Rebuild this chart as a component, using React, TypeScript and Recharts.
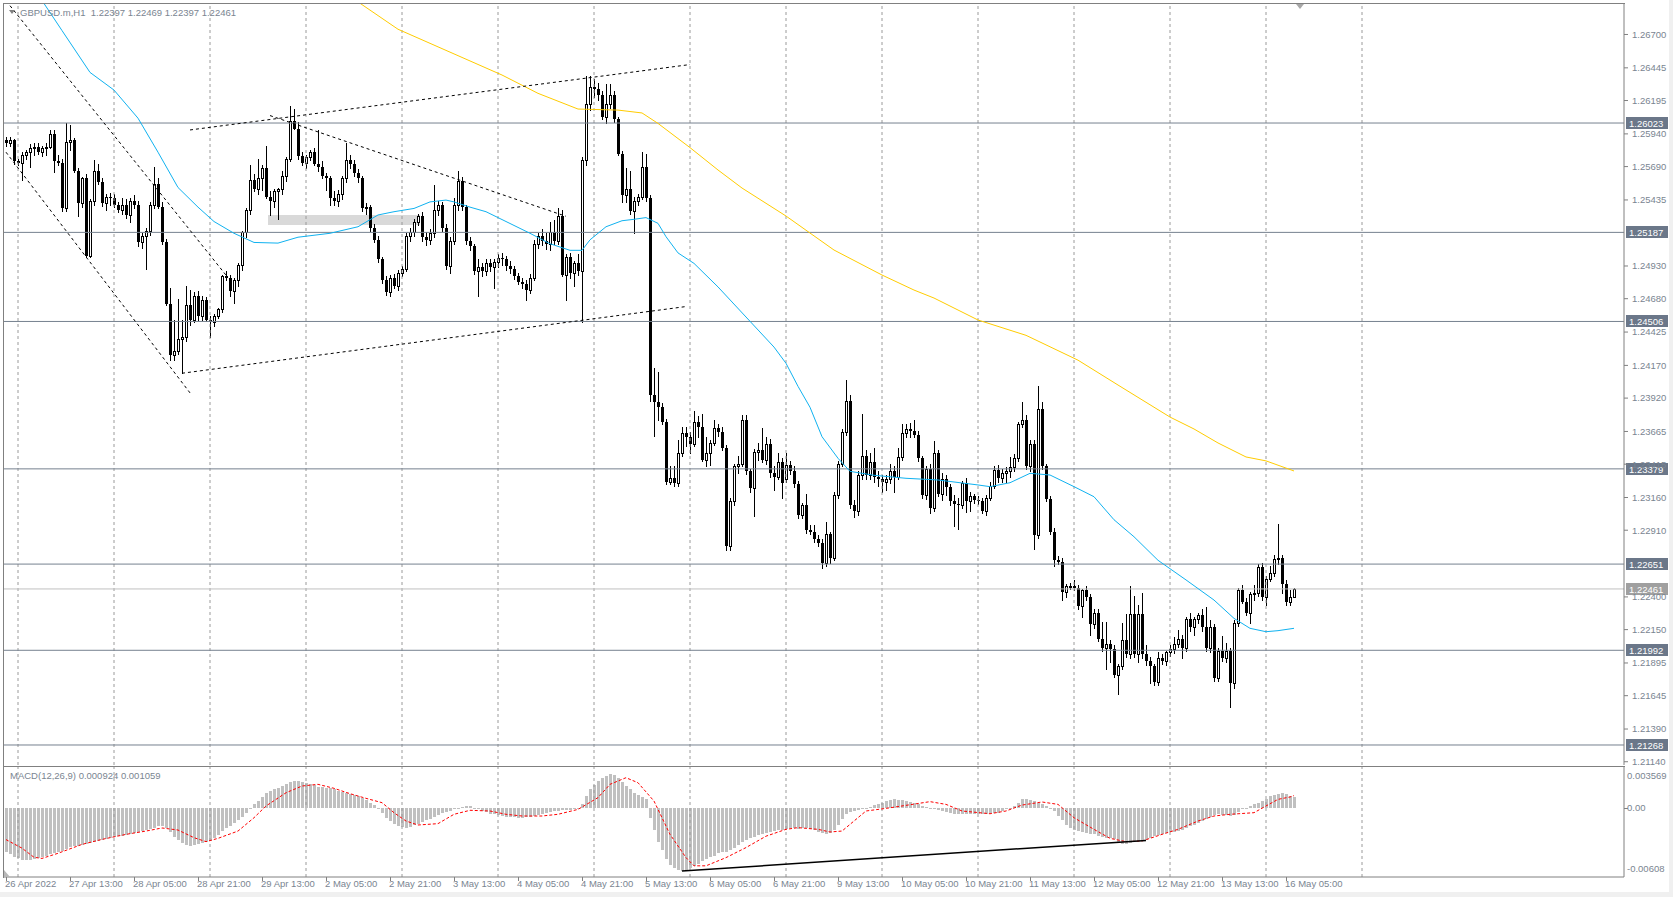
import React from "react";
import {
  ComposedChart,
  Bar,
  Line,
  XAxis,
  YAxis,
  ReferenceLine,
  ReferenceArea,
} from "recharts";

type Ohlc = [number, number, number, number];

// GBPUSD.m H1 candles, in pips above 1.20000: [open, high, low, close]
const apr26: Ohlc[] = [[589,592,585,587],[587,592,585,589],[589,590,571,573]];
const apr27: Ohlc[] = [
  [573,575,570,572],[572,580,559,578],[578,582,575,580],[580,586,569,583],[583,587,578,584],[584,587,579,580],
  [580,585,577,583],[583,587,578,584],[584,597,583,594],[594,597,565,573],[573,578,570,572],[572,575,535,537],
  [537,602,535,588],[588,601,582,589],[589,591,565,566],[566,568,531,541],[541,561,538,560],[560,563,500,501],
  [501,544,500,543],[543,574,540,566],[566,571,556,557],[557,560,539,541],[541,548,536,546],[546,549,540,545],
];
const apr28: Ohlc[] = [
  [545,548,538,540],[540,542,534,536],[536,545,533,540],[540,544,530,532],[532,545,527,543],[543,547,537,540],
  [540,543,508,511],[511,518,507,516],[516,522,491,520],[520,542,517,540],[540,569,537,556],[556,560,537,538],
  [538,542,510,511],[511,514,463,464],[464,476,421,425],[425,452,421,428],[428,468,426,437],[437,452,411,439],
  [439,478,436,463],[463,475,448,452],[452,473,450,470],[470,474,452,455],[455,470,452,467],[467,469,451,452],
];
const apr29: Ohlc[] = [
  [452,455,439,450],[450,456,447,455],[455,461,453,460],[460,486,458,485],[485,489,482,484],[484,486,470,474],
  [474,484,465,482],[482,495,478,494],[494,520,490,519],[519,537,515,536],[536,570,533,559],[559,563,550,552],
  [552,575,548,560],[560,570,551,568],[568,585,545,546],[546,550,532,543],[543,552,538,550],[550,553,529,552],
  [552,566,548,562],[562,576,558,575],[575,615,573,604],[604,613,598,598],[598,603,575,577],[577,580,570,572],
];
const may02: Ohlc[] = [
  [572,578,568,576],[576,582,574,580],[580,583,570,571],[571,597,566,569],[569,573,560,562],[562,564,551,560],
  [560,562,540,545],[545,550,540,543],[543,551,539,548],[548,562,544,560],[560,587,557,574],[574,578,568,571],
  [571,574,562,564],[564,567,557,560],[560,562,535,537],[537,541,533,538],[538,540,520,522],[522,525,511,513],
  [513,516,496,498],[498,500,480,482],[482,485,471,473],[473,486,470,484],[484,487,476,478],[478,490,475,488],
];
const may03: Ohlc[] = [
  [488,493,485,491],[491,518,489,516],[516,522,512,519],[519,529,516,527],[527,533,524,531],[531,534,512,515],
  [515,519,509,513],[513,521,510,518],[518,555,515,536],[536,543,532,540],[540,542,520,522],[522,525,491,493],
  [493,515,488,512],[512,545,510,540],[540,566,536,558],[558,561,536,538],[538,540,510,512],[512,515,505,508],
  [508,510,487,489],[489,498,470,492],[492,495,485,489],[489,498,486,495],[495,498,489,492],[492,498,476,496],
];
const may04: Ohlc[] = [
  [496,502,492,499],[499,503,494,498],[498,501,490,493],[493,497,488,491],[491,493,483,485],[485,488,479,481],
  [481,484,476,479],[479,482,467,475],[475,487,472,484],[484,513,482,510],[510,518,507,516],[516,521,509,512],
  [512,518,506,510],[510,527,505,519],[519,528,510,512],[512,537,510,531],[531,536,485,486],[486,502,467,500],
  [500,503,484,488],[488,497,478,495],[495,502,486,489],[489,576,450,574],[574,638,570,617],[617,638,612,630],
];
const may05: Ohlc[] = [
  [630,636,622,628],[628,633,620,624],[624,627,605,607],[607,632,602,617],[617,632,614,624],[624,627,603,605],
  [605,607,578,579],[579,581,542,547],[547,568,542,552],[552,566,533,535],[535,546,518,543],[543,548,540,546],
  [546,580,544,569],[569,579,543,545],[545,547,390,394],[394,415,363,389],[389,412,375,385],[385,388,372,374],
  [374,376,326,328],[328,340,326,331],[331,340,325,327],[327,360,325,350],[350,370,348,365],[365,370,355,362],
];
const may06: Ohlc[] = [
  [362,366,350,357],[357,382,355,374],[374,378,362,370],[370,380,344,345],[345,362,340,350],[350,360,341,358],
  [358,375,356,369],[369,372,363,366],[366,370,352,354],[354,356,276,279],[279,316,276,313],[313,342,310,340],
  [340,348,335,342],[342,379,340,375],[375,379,334,336],[336,338,320,323],[323,353,302,351],[351,358,345,352],
  [352,369,343,345],[345,362,342,357],[357,361,332,335],[335,340,322,332],[332,350,330,343],[343,346,316,327],
];
const may09: Ohlc[] = [
  [330,350,328,341],[341,344,334,336],[336,340,324,326],[326,329,300,303],[303,312,300,310],[310,319,289,291],
  [291,295,288,290],[290,295,282,284],[284,287,279,281],[281,284,262,266],[266,297,264,288],[288,290,266,270],
  [270,320,268,318],[318,344,316,342],[342,368,340,366],[366,406,364,390],[390,394,308,310],[310,314,301,306],
  [306,336,303,333],[333,380,330,348],[348,352,330,333],[333,350,330,343],[343,354,328,332],[332,336,325,330],
];
const may10: Ohlc[] = [
  [330,333,320,328],[328,333,322,330],[330,342,327,336],[336,340,320,332],[332,354,330,347],[347,372,345,365],
  [365,372,362,368],[368,373,362,367],[367,375,362,364],[364,367,344,346],[346,348,316,318],[318,340,315,338],
  [338,342,304,308],[308,359,306,350],[350,352,317,319],[319,335,314,330],[330,333,318,324],[324,326,310,313],
  [313,318,294,311],[311,316,292,310],[310,329,308,327],[327,331,305,313],[313,320,306,317],[317,319,312,314],
];
const may11: Ohlc[] = [
  [314,317,311,313],[313,316,304,306],[306,318,303,316],[316,328,314,325],[325,340,323,337],[337,341,328,331],
  [331,338,328,335],[335,339,328,336],[336,347,332,339],[339,349,336,346],[346,374,344,372],[372,389,370,375],
  [375,379,338,340],[340,360,336,357],[357,360,277,287],[287,401,285,384],[384,389,338,340],[340,342,313,315],
  [315,317,288,290],[290,293,264,268],[268,271,265,267],[267,270,238,244],[244,250,240,248],[248,251,246,248],
];
const may12: Ohlc[] = [
  [248,253,245,247],[247,249,231,233],[233,246,225,245],[245,248,238,240],[240,242,211,219],[219,231,216,228],
  [228,231,206,208],[208,221,199,201],[201,221,185,204],[204,207,190,200],[200,203,179,180],[180,189,166,187],
  [187,220,185,207],[207,227,194,196],[196,248,193,227],[227,241,194,196],[196,234,190,227],[227,243,193,196],
  [196,203,188,191],[191,194,174,187],[187,189,173,175],[175,198,173,193],[193,196,189,191],[191,199,188,198],
];
const may13: Ohlc[] = [
  [198,203,195,200],[200,209,197,204],[204,215,202,208],[208,211,193,201],[201,225,199,223],[223,228,214,217],
  [217,225,211,223],[223,228,220,226],[226,231,214,217],[217,232,199,201],[201,222,198,217],[217,219,176,178],
  [178,201,176,199],[199,210,191,193],[193,205,190,199],[199,201,156,174],[174,222,170,220],[220,247,218,245],
  [245,249,235,236],[236,239,226,228],[228,244,220,242],[242,249,238,243],[243,265,241,263],[263,266,238,240],
];
const may16: Ohlc[] = [
  [240,256,234,254],[254,264,252,258],[258,272,256,269],[269,296,265,270],[270,272,243,250],[250,253,234,236],
  [236,245,234,240],[239.7,246.9,239.7,246.1],
];

// MACD(12,26,9) main values per hour, in 1e-5
const macdApr26 = [-390,-410,-430];
const macdApr27 = [-445,-455,-460,-458,-452,-445,-435,-425,-410,-400,-390,-380,-360,-345,-340,-335,-325,-320,-310,-300,-290,-282,-275,-268];
const macdApr28 = [-260,-252,-245,-238,-230,-222,-215,-205,-198,-190,-178,-165,-160,-175,-215,-255,-285,-310,-325,-336,-330,-320,-310,-300];
const macdApr29 = [-290,-265,-240,-205,-180,-160,-135,-110,-80,-45,-5,30,60,95,130,150,160,175,190,205,225,234,230,222];
const macdMay02 = [215,205,195,185,180,175,170,160,150,140,130,120,110,100,85,65,45,20,-15,-50,-88,-120,-145,-160];
const macdMay03 = [-172,-175,-168,-155,-140,-125,-110,-95,-80,-60,-45,-35,-25,-15,0,10,15,12,0,-15,-30,-42,-52,-58];
const macdMay04 = [-65,-72,-78,-82,-85,-88,-88,-86,-82,-75,-65,-55,-45,-38,-30,-25,-20,-18,-16,-15,-12,30,100,160];
const macdMay05 = [200,235,260,280,292,285,260,225,190,160,130,110,95,73,-90,-200,-300,-370,-450,-500,-530,-550,-555,-545];
const macdMay06 = [-530,-510,-490,-470,-450,-435,-420,-400,-385,-390,-375,-350,-330,-300,-285,-270,-255,-240,-230,-220,-212,-205,-198,-192];
const macdMay09 = [-185,-182,-182,-185,-182,-180,-190,-200,-210,-225,-234,-225,-195,-150,-100,-55,-40,-30,-20,-10,0,10,20,30];
const macdMay10 = [42,55,65,73,70,65,58,50,42,30,15,5,0,-10,-18,-28,-38,-48,-55,-58,-58,-56,-55,-54];
const macdMay11 = [-53,-52,-52,-50,-48,-45,-30,-15,0,15,45,73,80,70,58,45,30,15,0,-30,-70,-110,-150,-175];
const macdMay12 = [-195,-205,-212,-220,-228,-234,-245,-255,-262,-270,-278,-300,-320,-318,-307,-300,-292,-285,-280,-265,-250,-240,-230,-222];
const macdMay13 = [-215,-210,-205,-195,-180,-165,-150,-135,-120,-100,-80,-60,-58,-62,-68,-73,-60,-35,-15,0,15,30,44,60];
const macdMay16 = [73,100,110,122,130,120,105,92];

// MACD signal line read at [bar, value 1e-5]
const signalPts: [number, number][] = [
  [0,-280],[4,-355],[7,-435],[9,-445],[13,-400],[19,-322],[24,-278],[30,-234],[35,-205],[39,-178],[43,-196],
  [47,-263],[50,-298],[53,-269],[58,-205],[62,-88],[65,15],[70,131],[74,190],[78,205],[82,170],[86,123],[90,82],
  [94,44],[97,-44],[100,-117],[103,-152],[108,-140],[112,-58],[116,-23],[121,-29],[125,-58],[129,-73],[134,-73],
  [138,-58],[143,-15],[148,88],[151,205],[155,263],[158,219],[162,58],[166,-234],[170,-438],[172,-510],[175,-510],
  [180,-438],[185,-350],[190,-250],[195,-190],[198,-175],[203,-190],[206,-213],[209,-205],[212,-117],[215,-29],
  [220,-6],[224,15],[231,53],[235,29],[239,-29],[246,-53],[250,-29],[254,23],[259,50],[263,29],[267,-88],[272,-190],
  [276,-269],[280,-298],[284,-292],[286,-269],[289,-234],[293,-190],[298,-117],[302,-73],[306,-58],[312,-44],
  [315,15],[318,73],[321,94],[322,106],
];

// moving averages read at [bar, pips above 1.2]
const maFastPts: [number, number][] = [
  [9,696],[14,673],[21,641],[27,627.5],[33,606],[38,580],[43,553],[48,538],[52,527],[57,518],[62,511],[68,510.5],
  [73,515],[81,518],[88,523],[93,532],[97,534.5],[102,537],[106,542],[110,543.4],[112,542],[116,538],[120,534.5],
  [125,527],[131,518],[136,510],[141,505],[144,505],[146,513],[150,523],[154,527.6],[157,528.7],[160,530],
  [163,525.6],[165,515.4],[168,503],[172,495],[178,477],[185,454],[192,431],[195,418.6],[198,401],[201,385],
  [204,362.5],[208,346],[211,336],[217,333],[225,330.7],[233,329.4],[243,325.6],[246,324.3],[251,327.3],
  [256,334.5],[261,333.2],[267,324.3],[272,316.6],[277,299],[282,286],[288,268],[295,253],[302,237.6],
  [307,223.6],[311,216],[315,213.4],[318,214.2],[322,216],
];
const maSlowPts: [number, number][] = [
  [87,697],[98,674],[124,639],[133,625],[143,613],[153,612.2],[159,610],[163,602],[171,583.5],[178,566.4],
  [184,552.6],[195,531.2],[201,518.2],[207,505.2],[219,486.1],[227,474.6],[232,468.5],[243,451.7],[255,440],
  [268,421],[278,402],[291,377.5],[297,368.4],[303,357.7],[310,347],[315,344],[322,336.3],
];

// drawn objects: [bar1, pips1, bar2, pips2]
const trendLines: [number, number, number, number][] = [
  [1, 692, 55, 486],
  [0, 580, 46, 396],
  [44, 411, 170, 462],
  [46, 597, 171, 647],
  [66, 608, 140, 531],
];
const zoneBox = { from: 66, to: 103, top: 532, bottom: 524.3 };
const macdTrend: [number, number, number, number] = [169, -556, 285, -287];

const levels = [1.26023, 1.25187, 1.24506, 1.23379, 1.22651, 1.21992, 1.21268];
const bidPrice = 1.22461;
const priceTicks = [
  1.267, 1.26445, 1.26195, 1.2594, 1.2569, 1.25435, 1.2493, 1.2468, 1.24425, 1.2417, 1.2392,
  1.23665, 1.23415, 1.2316, 1.2291, 1.224, 1.2215, 1.21895, 1.21645, 1.2139, 1.2114,
];
const macdTicks = [0.003569, 0, -0.00608];
const macdTickLabels = ["0.003569", "0.00", "-0.00608"];
const timeTicks = [0,16,32,48,64,80,96,112,128,144,160,176,192,208,224,240,256,272,288,304,320];
const timeLabels = [
  "26 Apr 2022", "27 Apr 13:00", "28 Apr 05:00", "28 Apr 21:00", "29 Apr 13:00", "2 May 05:00",
  "2 May 21:00", "3 May 13:00", "4 May 05:00", "4 May 21:00", "5 May 13:00", "6 May 05:00",
  "6 May 21:00", "9 May 13:00", "10 May 05:00", "10 May 21:00", "11 May 13:00", "12 May 05:00",
  "12 May 21:00", "13 May 13:00", "16 May 05:00",
];
const dayStarts = [3,27,51,75,99,123,147,171,195,219,243,267,291,315,339];
const SLOTS = 405;

const candleDays = [apr26, apr27, apr28, apr29, may02, may03, may04, may05, may06, may09, may10, may11, may12, may13, may16];
const macdDays = [macdApr26, macdApr27, macdApr28, macdApr29, macdMay02, macdMay03, macdMay04, macdMay05, macdMay06, macdMay09, macdMay10, macdMay11, macdMay12, macdMay13, macdMay16];

const px = (p: number) => 1.2 + p / 10000;
const candles = candleDays.flat();
const hist = macdDays.flat();

const rows: any[] = Array.from({ length: SLOTS }, (_, i) => {
  const k = candles[i];
  return {
    i,
    o: k ? px(k[0]) : null,
    h: k ? px(k[1]) : null,
    l: k ? px(k[2]) : null,
    c: k ? px(k[3]) : null,
    macd: hist[i] != null ? hist[i] / 1e5 : null,
    fast: null,
    slow: null,
    signal: null,
  };
});
maFastPts.forEach(([i, p]) => (rows[i].fast = px(p)));
maSlowPts.forEach(([i, p]) => (rows[i].slow = px(p)));
signalPts.forEach(([i, v]) => (rows[i].signal = v / 1e5));

const TXT = "#7a8591";
const FONT = "'Liberation Sans', Arial, sans-serif";
const FS = 9.5;
const FRAME = "#808080";
const LEVEL = "#76818f";
const GRID = "#9a9a9a";

function Candle(props: any) {
  const { x, y, width, height, payload } = props;
  if (!payload || payload.o == null || y == null || isNaN(y)) return null;
  const { o, h, l, c } = payload;
  const top = Math.min(y, y + height);
  const span = Math.abs(height);
  const rng = h - l;
  const toY = (v: number) => (rng > 0 ? top + ((h - v) / rng) * span : top);
  const cx = Math.round(x + width / 2);
  const yh = Math.round(top);
  const yl = Math.round(top + span);
  const yo = Math.round(toY(o));
  const yc = Math.round(toY(c));
  const bt = Math.min(yo, yc);
  const bb = Math.max(yo, yc);
  const bull = c >= o;
  return (
    <g>
      <line x1={cx + 0.5} x2={cx + 0.5} y1={yh} y2={yl + 1} stroke="#000" strokeWidth={1} />
      {bull ? (
        <rect x={cx - 0.5} y={bt + 0.5} width={2} height={Math.max(bb - bt, 1)} fill="#fff" stroke="#000" strokeWidth={1} />
      ) : (
        <rect x={cx - 1} y={bt} width={3} height={Math.max(bb - bt, 1)} fill="#000" />
      )}
    </g>
  );
}

function HistBar(props: any) {
  const { x, y, width, height, payload } = props;
  if (!payload || payload.macd == null || y == null || isNaN(y)) return null;
  const cx = Math.round(x + width / 2);
  const t = Math.round(Math.min(y, y + height));
  const b = Math.round(Math.max(y, y + height));
  return <rect x={cx - 1} y={t} width={3} height={Math.max(b - t, 1)} fill="#c0c0c0" />;
}

function LevelTag(props: any) {
  const { viewBox, tagText, tagColor } = props;
  if (!viewBox) return null;
  const x = viewBox.x + viewBox.width + 2;
  const y = Math.round(viewBox.y);
  return (
    <g>
      <rect x={x} y={y - 6} width={42} height={12} fill={tagColor} />
      <text x={x + 3} y={y + 3.5} fill="#fff" fontSize={FS} fontFamily={FONT}>
        {tagText}
      </text>
    </g>
  );
}

function TimeTick(props: any) {
  const { x, y, payload } = props;
  const k = timeTicks.indexOf(payload.value);
  const tx = Math.round(x);
  return (
    <g>
      <line x1={tx + 0.5} x2={tx + 0.5} y1={y} y2={y + 4} stroke={FRAME} />
      <text x={tx - 1} y={y + 10} fill={TXT} fontSize={FS} fontFamily={FONT}>
        {timeLabels[k]}
      </text>
    </g>
  );
}

function MacdTick(props: any) {
  const { x, y, payload } = props;
  const k = macdTicks.indexOf(payload.value);
  const dy = k === 0 ? 8 : k === 2 ? -9 : 0;
  return (
    <g>
      {k === 1 && <line x1={x - 8} x2={x - 4} y1={Math.round(y) + 0.5} y2={Math.round(y) + 0.5} stroke={FRAME} />}
      <text x={x - 5} y={y + dy + 3.5} fill={TXT} fontSize={FS} fontFamily={FONT}>
        {macdTickLabels[k]}
      </text>
    </g>
  );
}

export default function App() {
  return (
    <div style={{ position: "absolute", left: 0, top: 0, width: 1673, height: 897, background: "#fff", fontFamily: FONT }}>
      <div style={{ position: "absolute", left: 0, top: 0 }}>
        <ComposedChart width={1673} height={767} data={rows} margin={{ top: 4, right: 0, bottom: 2, left: 4 }} barCategoryGap={0}>
          <XAxis dataKey="i" type="category" hide />
          <YAxis
            orientation="right"
            type="number"
            width={49}
            domain={[1.21115, 1.26933]}
            allowDataOverflow
            ticks={priceTicks}
            interval={0}
            tickFormatter={(v: number) => v.toFixed(5)}
            tick={{ fill: TXT, fontSize: FS, fontFamily: FONT }}
            tickSize={4}
            tickMargin={4}
            axisLine={{ stroke: FRAME }}
            tickLine={{ stroke: FRAME }}
          />
          {dayStarts.map((d) => (
            <ReferenceLine key={"g" + d} x={d} stroke={GRID} strokeDasharray="3 3" />
          ))}
          <ReferenceArea
            x1={zoneBox.from}
            x2={zoneBox.to}
            y1={px(zoneBox.bottom)}
            y2={px(zoneBox.top)}
            fill="#d9d9d9"
            fillOpacity={1}
            stroke="none"
          />
          {levels.map((lv) => (
            <ReferenceLine
              key={"l" + lv}
              y={lv}
              stroke={LEVEL}
              label={(p: any) => <LevelTag {...p} tagText={lv.toFixed(5)} tagColor="#6b7789" />}
            />
          ))}
          <ReferenceLine
            y={bidPrice}
            stroke="#c0c0c0"
            label={(p: any) => <LevelTag {...p} tagText={bidPrice.toFixed(5)} tagColor="#a0a0a0" />}
          />
          <Bar
            dataKey={(d: any) => (d.o == null ? null : [d.l, d.h])}
            shape={(p: any) => <Candle {...p} />}
            isAnimationActive={false}
          />
          <Line dataKey="fast" stroke="#10b2f0" strokeWidth={1} dot={false} activeDot={false} connectNulls type="linear" isAnimationActive={false} />
          <Line dataKey="slow" stroke="#ffcc00" strokeWidth={1} dot={false} activeDot={false} connectNulls type="linear" isAnimationActive={false} />
          {trendLines.map(([a, pa, b, pb], k) => (
            <ReferenceLine
              key={"t" + k}
              segment={[{ x: a, y: px(pa) }, { x: b, y: px(pb) }]}
              stroke="#000"
              strokeDasharray="3 3"
              ifOverflow="visible"
            />
          ))}
        </ComposedChart>
      </div>
      <div style={{ position: "absolute", left: 0, top: 767 }}>
        <ComposedChart width={1673} height={130} data={rows} margin={{ top: 0, right: 0, bottom: 0, left: 4 }} barCategoryGap={0}>
          <XAxis
            dataKey="i"
            type="category"
            ticks={timeTicks}
            interval={0}
            height={20}
            tickSize={0}
            tickMargin={0}
            tickLine={false}
            axisLine={{ stroke: FRAME }}
            tick={(p: any) => <TimeTick {...p} />}
          />
          <YAxis
            orientation="right"
            type="number"
            width={49}
            domain={[-0.00608, 0.003569]}
            allowDataOverflow
            ticks={macdTicks}
            interval={0}
            tickSize={4}
            tickMargin={4}
            tickLine={false}
            axisLine={{ stroke: FRAME }}
            tick={(p: any) => <MacdTick {...p} />}
          />
          {dayStarts.map((d) => (
            <ReferenceLine key={"mg" + d} x={d} stroke={GRID} strokeDasharray="3 3" />
          ))}
          <Bar dataKey="macd" shape={(p: any) => <HistBar {...p} />} isAnimationActive={false} />
          <Line dataKey="signal" stroke="#ff0000" strokeWidth={1} strokeDasharray="3 2" dot={false} activeDot={false} connectNulls type="linear" isAnimationActive={false} />
          <ReferenceLine
            segment={[{ x: macdTrend[0], y: macdTrend[1] / 1e5 }, { x: macdTrend[2], y: macdTrend[3] / 1e5 }]}
            stroke="#000"
            strokeWidth={1.5}
            ifOverflow="visible"
          />
        </ComposedChart>
      </div>
      <svg width={1673} height={897} style={{ position: "absolute", left: 0, top: 0, pointerEvents: "none" }}>
        <line x1={3.5} x2={3.5} y1={3} y2={878} stroke={FRAME} />
        <line x1={3} x2={1625} y1={3.5} y2={3.5} stroke={FRAME} />
        <line x1={3} x2={1625} y1={766.5} y2={766.5} stroke={FRAME} />
        <polygon points="9,10 15,10 12,14" fill={FRAME} />
        <text x={20} y={16} fill={TXT} fontSize={FS} fontFamily={FONT} style={{ whiteSpace: "pre" }}>
          {"GBPUSD.m,H1  1.22397 1.22469 1.22397 1.22461"}
        </text>
        <text x={10} y={779} fill={TXT} fontSize={FS} fontFamily={FONT} style={{ whiteSpace: "pre" }}>
          {"MACD(12,26,9) 0.000924 0.001059"}
        </text>
        <polygon points="1296,4 1304,4 1300,9" fill="#a8a8a8" />
        <polygon points="4,870 4,877 10,877" fill="#b8b8b8" />
        <rect x={1669} y={0} width={4} height={897} fill="#f0f0f0" />
        <rect x={0} y={892} width={1673} height={5} fill="#f0f0f0" />
      </svg>
    </div>
  );
}
